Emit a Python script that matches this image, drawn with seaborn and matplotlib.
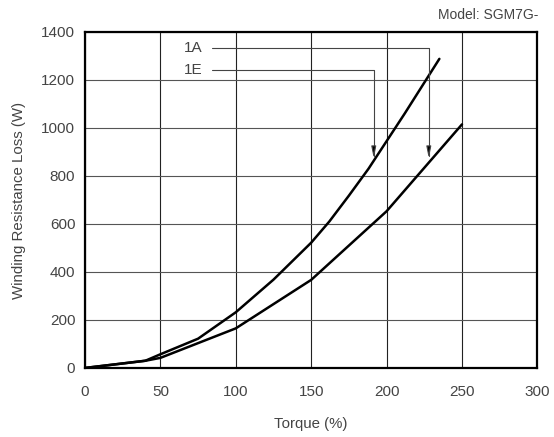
import pandas as pd
import matplotlib.pyplot as plt
import seaborn as sns

# valores
torque_1e = [0, 40, 50, 75, 100, 125, 150, 162, 175, 188, 200, 212, 235]
loss_1e = [0, 30, 57, 122, 232, 368, 522, 610, 718, 830, 945, 1060, 1288]
torque_1a = [0, 40, 50, 100, 150, 200, 250]
loss_1a = [0, 30, 42, 165, 367, 653, 1015]
x_ticks = [0, 50, 100, 150, 200, 250, 300]
y_ticks = [0, 200, 400, 600, 800, 1000, 1200, 1400]

df = pd.concat([
    pd.DataFrame({'torque': torque_1e, 'loss': loss_1e, 'modelo': '1E'}),
    pd.DataFrame({'torque': torque_1a, 'loss': loss_1a, 'modelo': '1A'}),
])

sns.set_style('white')
plt.rcParams['font.family'] = ['Liberation Sans', 'DejaVu Sans']

fig = plt.figure(figsize=(5.54, 4.37), dpi=100)
ax = fig.add_axes([0.1534, 0.158, 0.8166, 0.7688])

for x in x_ticks:
    ax.axvline(x, color='#222222', lw=0.8, zorder=1)
for y in y_ticks:
    ax.axhline(y, color='#555555', lw=0.8, zorder=1)

sns.lineplot(data=df, x='torque', y='loss', units='modelo', estimator=None,
             color='black', lw=1.8, sort=False, ax=ax, zorder=3)

ax.set_xlim(0, 300)
ax.set_ylim(0, 1400)
ax.set_xticks(x_ticks)
ax.set_yticks(y_ticks)
ax.tick_params(length=0, labelsize=11, labelcolor='#444444')
ax.tick_params(axis='x', pad=12)
ax.tick_params(axis='y', pad=7)
for s in ax.spines.values():
    s.set_color('black')
    s.set_linewidth(1.6)
    s.set_zorder(4)

ax.set_xlabel('Torque (%)', fontsize=10.8, color='#444444', labelpad=13)
ax.set_ylabel('Winding Resistance Loss (W)', fontsize=10.8, color='#444444', labelpad=11)

# rótulos com setas
labels = ['1A', '1E']
label_y = [1335, 1243]
arrow_tip = [(228, 873), (191.5, 873)]
for lab, ly, tip in zip(labels, label_y, arrow_tip):
    ax.text(78, ly, lab, ha='right', va='center', fontsize=11, color='#444444')
    ax.annotate('', xy=tip, xytext=(84, ly),
                arrowprops=dict(arrowstyle='-|>,head_length=0.7,head_width=0.14',
                                connectionstyle='angle,angleA=0,angleB=90,rad=0',
                                color='#444444', lw=0.8, shrinkA=0, shrinkB=0,
                                fc='black'), zorder=5)

fig.text(0.971, 0.966, 'Model: SGM7G-', ha='right', va='center', fontsize=10, color='#444444')

plt.savefig('out.png', dpi=100)
plt.close()
